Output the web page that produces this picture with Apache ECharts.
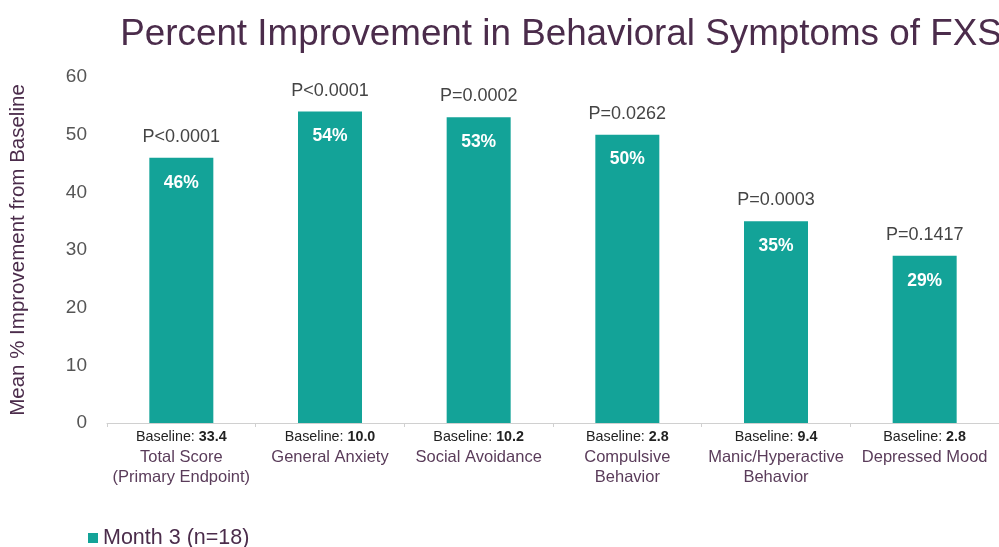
<!DOCTYPE html>
<html><head><meta charset="utf-8">
<script src="https://cdn.jsdelivr.net/npm/echarts@6/dist/echarts.min.js"></script>
<style>html,body{margin:0;padding:0;background:#fff}#c{width:999px;height:547px}</style>
</head><body><div id="c"></div>
<script>
const categories = ['Total Score\n(Primary Endpoint)', 'General Anxiety', 'Social Avoidance', 'Compulsive\nBehavior', 'Manic/Hyperactive\nBehavior', 'Depressed Mood'];
const baselines = ['33.4', '10.0', '10.2', '2.8', '9.4', '2.8'];
const improvement = [46, 54, 53, 50, 35, 29];
const pValues = ['P<0.0001', 'P<0.0001', 'P=0.0002', 'P=0.0262', 'P=0.0003', 'P=0.1417'];
const yTicks = [0, 10, 20, 30, 40, 50, 60];
const seriesName = 'Month 3 (n=18)';

const teal = '#13a398';
const purple = '#4b2c4b';
const chart = echarts.init(document.getElementById('c'));
chart.setOption({
  animation: false,
  title: {
    text: 'Percent Improvement in Behavioral Symptoms of FXS',
    left: 556, top: 11, textAlign: 'center',
    textStyle: { fontFamily: 'Liberation Sans, Arial', fontSize: 36.8, fontWeight: 'normal', color: purple }
  },
  legend: {
    data: [seriesName], left: 83, top: 522, itemWidth: 10, itemHeight: 10, itemGap: 5,
    icon: 'rect',
    textStyle: { fontFamily: 'Liberation Sans, Arial', fontSize: 21.5, color: purple }
  },
  grid: { left: 105, top: 77, width: 900, height: 346, containLabel: false },
  xAxis: {
    type: 'category', data: categories,
    axisLine: { lineStyle: { color: '#d0d0d0', width: 1 } },
    axisTick: { show: true, length: 4, lineStyle: { color: '#d0d0d0' } },
    axisLabel: {
      interval: 0, margin: 4,
      formatter: function (v, i) {
        const lines = v.split('\n').map(s => '{c|' + s + '}').join('\n');
        return '{n|Baseline: }{b|' + baselines[i] + '}\n' + lines;
      },
      rich: {
        n: { fontFamily: 'Liberation Sans, Arial', fontSize: 14.3, color: '#222', lineHeight: 20 },
        b: { fontFamily: 'Liberation Sans, Arial', fontSize: 14.3, fontWeight: 'bold', color: '#222', lineHeight: 20 },
        c: { fontFamily: 'Liberation Sans, Arial', fontSize: 16.5, color: '#5a3c5a', lineHeight: 20 }
      }
    }
  },
  yAxis: {
    type: 'value', min: 0, max: 60, interval: 10,
    name: 'Mean % Improvement from Baseline', nameLocation: 'middle', nameGap: 78, nameRotate: 90,
    nameTextStyle: { fontFamily: 'Liberation Sans, Arial', fontSize: 20.5, color: purple },
    splitLine: { show: false }, axisLine: { show: false }, axisTick: { show: false },
    axisLabel: {
      margin: 20, fontFamily: 'Liberation Sans, Arial', fontSize: 19, color: '#555',
      formatter: v => yTicks.includes(v) ? String(v) : ''
    }
  },
  series: [
    {
      name: seriesName, type: 'bar', data: improvement, barWidth: 64,
      itemStyle: { color: teal },
      label: {
        show: true, position: 'top', distance: 12,
        formatter: p => pValues[p.dataIndex],
        fontFamily: 'Liberation Sans, Arial', fontSize: 18, color: '#444'
      }
    },
    {
      name: 'pct', type: 'bar', data: improvement, barWidth: 64, barGap: '-100%',
      itemStyle: { color: 'rgba(0,0,0,0)' }, silent: true,
      label: {
        show: true, position: 'insideTop', distance: 16,
        formatter: p => p.value + '%',
        fontFamily: 'Liberation Sans, Arial', fontSize: 17.5, fontWeight: 'bold', color: '#fff'
      }
    }
  ]
});
</script></body></html>
